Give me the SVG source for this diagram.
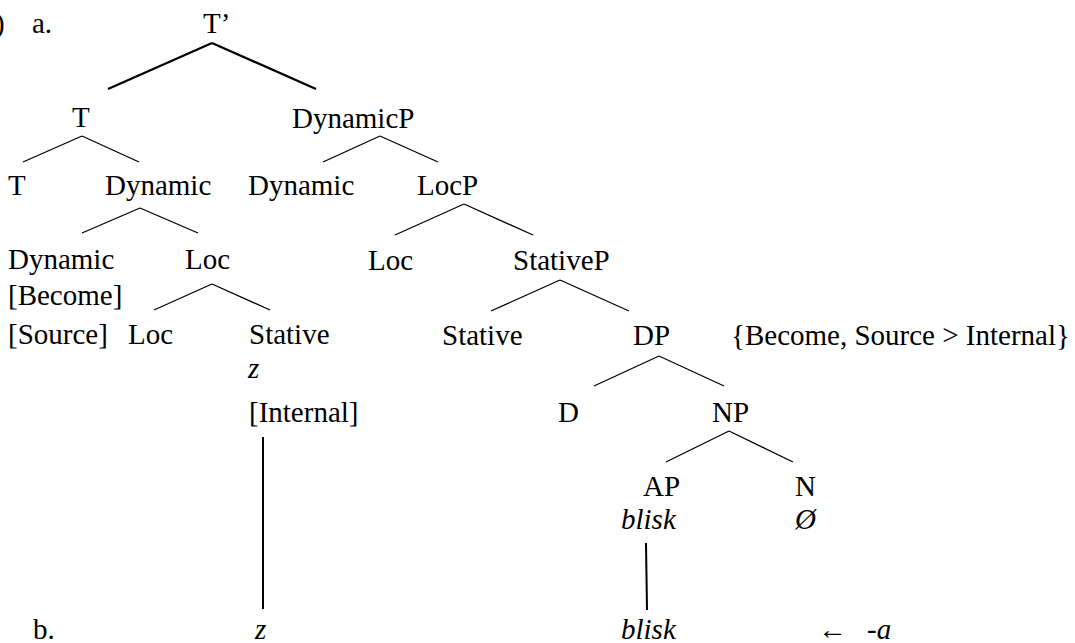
<svg xmlns="http://www.w3.org/2000/svg" width="1075" height="643" viewBox="0 0 1075 643">
<style>
text{font-family:"Liberation Serif","Times New Roman",serif;font-size:29px;fill:#000}
.i{font-style:italic}
line{stroke:#000;stroke-width:1.3;stroke-linecap:butt}
.thick{stroke-width:2.2}
.v{stroke-width:2}
</style>
<rect width="1075" height="643" fill="#fff"/>
<g id="connectors">
<line class="thick" x1="212" y1="43" x2="108" y2="89"/>
<line class="thick" x1="212" y1="43" x2="316" y2="89"/>
<line x1="82" y1="136" x2="23" y2="162"/>
<line x1="82" y1="136" x2="139" y2="162"/>
<line x1="380" y1="136" x2="323" y2="162"/>
<line x1="380" y1="136" x2="438" y2="162"/>
<line x1="140" y1="208" x2="82" y2="233"/>
<line x1="140" y1="208" x2="198" y2="233"/>
<line x1="464" y1="204" x2="395" y2="235"/>
<line x1="464" y1="204" x2="533" y2="235"/>
<line x1="212" y1="284" x2="154" y2="310"/>
<line x1="212" y1="284" x2="270" y2="310"/>
<line x1="560" y1="280" x2="491" y2="311"/>
<line x1="560" y1="280" x2="629" y2="311"/>
<line x1="659" y1="356" x2="594" y2="386"/>
<line x1="659" y1="356" x2="724" y2="386"/>
<line x1="729" y1="431" x2="666" y2="462"/>
<line x1="729" y1="431" x2="793" y2="462"/>
<line class="v" x1="263" y1="437" x2="263" y2="609"/>
<line class="v" x1="646" y1="543" x2="647" y2="610"/>
</g>
<g id="labels">
<text x="-5" y="33">)</text>
<text x="32" y="33">a.</text>
<text x="33" y="639">b.</text>
</g>
<g id="n-Tbar"><text x="203" y="33">T’</text></g>
<g id="n-T1"><text x="72" y="127">T</text></g>
<g id="n-DynamicP"><text x="292" y="128">DynamicP</text></g>
<g id="n-T2"><text x="8" y="195">T</text></g>
<g id="n-Dynamic1"><text x="105" y="195">Dynamic</text></g>
<g id="n-Dynamic2"><text x="248" y="195">Dynamic</text></g>
<g id="n-LocP"><text x="417" y="195">LocP</text></g>
<g id="n-Dynamic3"><text x="8" y="269">Dynamic</text><text x="8" y="305">[Become]</text><text x="8" y="344">[Source]</text></g>
<g id="n-Loc1"><text x="185" y="269">Loc</text></g>
<g id="n-Loc2"><text x="368" y="270">Loc</text></g>
<g id="n-StativeP"><text x="513" y="270">StativeP</text></g>
<g id="n-Loc3"><text x="128" y="344">Loc</text></g>
<g id="n-Stative1"><text x="249" y="344">Stative</text><text class="i" x="248" y="378">z</text><text x="249" y="422">[Internal]</text></g>
<g id="n-Stative2"><text x="442" y="345">Stative</text></g>
<g id="n-DP"><text x="633" y="345">DP</text></g>
<g id="n-features"><text x="731" y="345">{Become, Source &gt; Internal}</text></g>
<g id="n-D"><text x="558" y="422">D</text></g>
<g id="n-NP"><text x="712" y="422">NP</text></g>
<g id="n-AP"><text x="643" y="496">AP</text><text class="i" x="621" y="529">blisk</text></g>
<g id="n-N"><text x="795" y="496">N</text><text class="i" x="795" y="529">Ø</text></g>
<g id="n-z-b"><text class="i" x="255" y="639">z</text></g>
<g id="n-blisk-b"><text class="i" x="621" y="639">blisk</text></g>
<g id="n-a-b"><text x="818" y="639">←</text><text class="i" x="867" y="639">-a</text></g>
</svg>
